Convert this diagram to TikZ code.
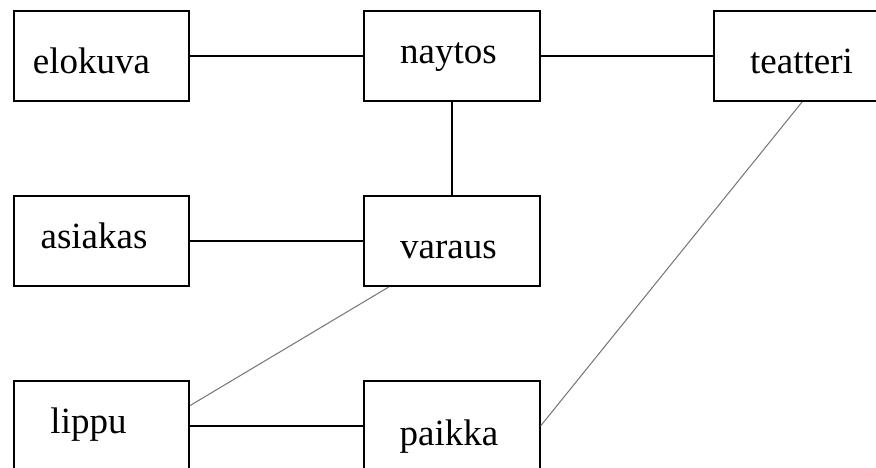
\documentclass[tikz,border=0pt]{standalone}
\usepackage{fontspec}
\setmainfont{Liberation Serif}
\definecolor{thinline}{gray}{0.45}
\tikzset{
    entity/.style={draw, line width=1.6pt, minimum width=175.5pt, minimum height=90.5pt, inner sep=0pt},
    lbl/.style={anchor=base, inner sep=0pt, font=\fontsize{37}{40}\selectfont},
    link/.style={line width=1.5pt},
    thinlink/.style={line width=1pt, draw=thinline},
}
\begin{document}
\begin{tikzpicture}[x=1pt, y=-1pt]
            \useasboundingbox (0,0) rectangle (876,467);
            \clip (0,0) rectangle (876,467);
            % Entities
            \node[entity] (elokuva) at (101.5, 56) {};
            \node[entity] (naytos) at (452, 56) {};
            \node[entity] (teatteri) at (802, 56) {};
            \node[entity] (asiakas) at (101.5, 241) {};
            \node[entity] (varaus) at (452, 241) {};
            \node[entity] (lippu) at (101.5, 426) {};
            \node[entity] (paikka) at (452, 426) {};

            % Names
            \node[lbl] (elokuva-txt) at (91.5, 73) {elokuva};
            \node[lbl] (naytos-txt) at (448.5, 63) {naytos};
            \node[lbl] (teatteri-txt) at (801.5, 73) {teatteri};
            \node[lbl] (asiakas-txt) at (94, 248) {asiakas};
            \node[lbl] (varaus-txt) at (448.5, 258) {varaus};
            \node[lbl] (lippu-txt) at (88.5, 433) {lippu};
            \node[lbl] (paikka-txt) at (449, 445) {paikka};

            % Links
            \draw[link] (elokuva) -- (naytos);
            \draw[link] (naytos) -- (teatteri);
            \draw[link] (naytos) -- (varaus);
            \draw[link] (asiakas) -- (varaus);
            \draw[link] (lippu) -- (paikka);
            \draw[thinlink] (varaus.216) -- (lippu.13);
            \draw[thinlink] (teatteri.south) -- (paikka.east);
        \end{tikzpicture}
\end{document}
